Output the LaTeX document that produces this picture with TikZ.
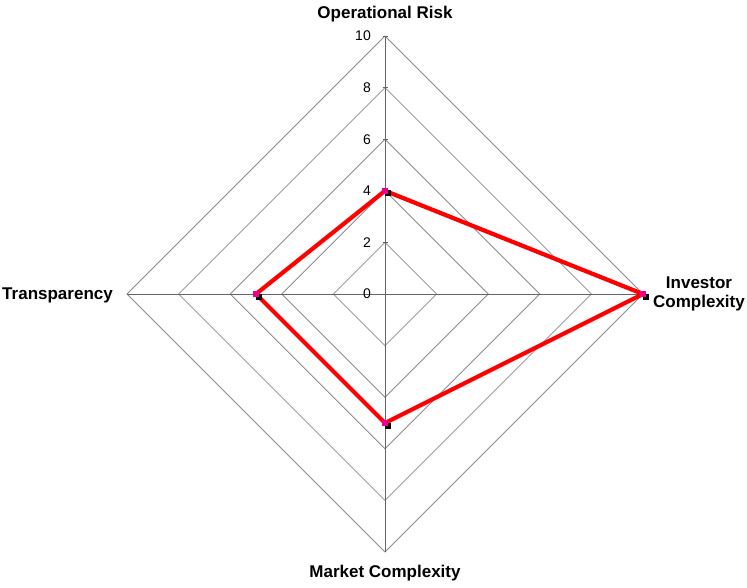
\documentclass[tikz,border=0pt]{standalone}
\usepackage{fontspec}
\setmainfont{Liberation Sans}
\begin{document}
\begin{tikzpicture}[x=1pt,y=-1pt,
  ring/.style={draw=black!45,line width=0.8pt},
  axisline/.style={draw=black!60,line width=1pt},
  series/.style={draw=red,line width=4.2pt,line join=round},
  catlabel/.style={font=\fontsize{17}{19.5}\selectfont\bfseries,align=center,inner sep=0pt},
  numlabel/.style={font=\fontsize{14}{15}\selectfont,anchor=east,inner sep=0pt},
  mk/.style={fill=magenta,minimum size=6pt,inner sep=0pt},
  mkshadow/.style={fill=black,minimum size=6pt,inner sep=0pt}]
\useasboundingbox (0,0) rectangle (747,587);
\def\cx{385}\def\cy{294}\def\R{258}
% rings
\foreach \k in {1,...,5}{
  \pgfmathsetmacro{\r}{\R*\k/5}
  \draw[ring] (\cx,\cy-\r) -- (\cx+\r,\cy) -- (\cx,\cy+\r) -- (\cx-\r,\cy) -- cycle;
}
% axes
\coordinate (c) at (\cx,\cy);
\coordinate (top) at (\cx,\cy-\R);
\coordinate (rgt) at (\cx+\R,\cy);
\coordinate (bot) at (\cx,\cy+\R);
\coordinate (lft) at (\cx-\R,\cy);
\draw[axisline] (c) -- (top);
\draw[axisline] (c) -- (rgt);
\draw[axisline] (c) -- (bot);
\draw[axisline] (c) -- (lft);
% tick marks on vertical axis
\foreach \k in {1,...,5}{
  \draw[axisline] (\cx-2.5,\cy-\R*\k/5) -- (\cx+2.5,\cy-\R*\k/5);
}
% value labels
\foreach \v in {0,2,4,6,8,10}{
  \node[numlabel] (n\v) at (371,\cy-\R*\v/10) {\v};
}
% category labels
\node[catlabel] (op) at (385,14) {Operational Risk};
\node[catlabel] (inv) at (699,294) {Investor\\Complexity};
\node[catlabel] (mkt) at (385,573) {Market Complexity};
\node[catlabel,anchor=east] (tr) at (113,295) {Transparency};
% data points
\coordinate (p1) at (\cx,\cy-\R*4/10);
\coordinate (p2) at (\cx+\R*10/10,\cy);
\coordinate (p3) at (\cx,\cy+\R*5/10);
\coordinate (p4) at (\cx-\R*5/10,\cy);
\draw[series] (p1) -- (p2) -- (p3) -- (p4) -- cycle;
\foreach \p in {p1,p2,p3,p4}{
  \node[mkshadow] at ([shift={(2.5,2.5)}]\p) {};
  \node[mk] at (\p) {};
}
\end{tikzpicture}
\end{document}
